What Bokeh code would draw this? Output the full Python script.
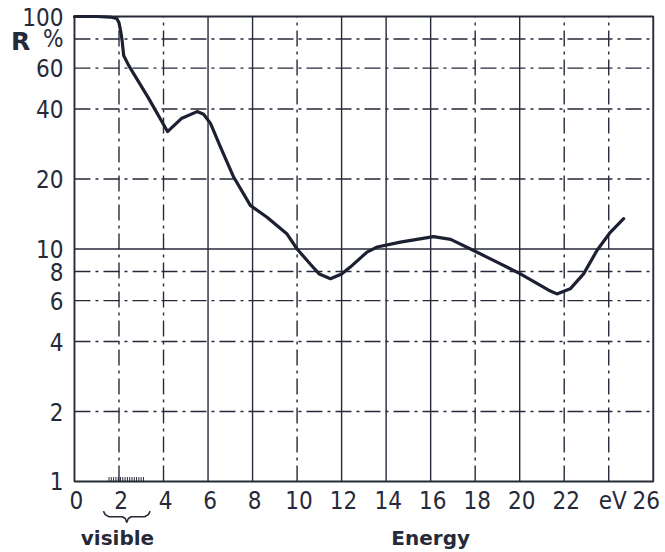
from bokeh.plotting import figure
from bokeh.models import Range1d
from bokeh.core.properties import value
from bokeh.embed import file_html
from bokeh.resources import INLINE

# Reflectance R (%) versus photon energy (eV)
energy_ev = [0.0, 1.0, 1.6, 1.9, 2.0, 2.08, 2.14, 2.21, 2.44, 3.3, 4.18, 4.8,
             5.51, 5.8, 6.11, 6.56, 7.15, 7.9, 8.65, 9.55, 10.0, 10.6, 11.0,
             11.5, 12.0, 12.39, 13.14, 13.6, 14.64, 16.13, 16.9, 17.93, 18.98,
             20.03, 20.93, 21.3, 21.67, 22.27, 22.87, 23.47, 24.07, 24.67]
reflectance_pct = [100, 100, 99.5, 98, 94, 86, 78.9, 68, 61.5, 45, 32, 36.4,
                   39, 38, 34.7, 27.4, 20.4, 15.4, 13.7, 11.6, 10.0, 8.6, 7.8,
                   7.45, 7.8, 8.36, 9.7, 10.2, 10.7, 11.3, 11.0, 9.85, 8.78,
                   7.82, 6.97, 6.65, 6.41, 6.74, 7.82, 9.85, 11.8, 13.5]

x_ticks = [0, 2, 4, 6, 8, 10, 12, 14, 16, 18, 20, 22, 24, 26]
x_tick_labels = {24: "eV"}
y_ticks = [1, 2, 4, 6, 8, 10, 20, 40, 60, 80, 100]
y_tick_labels = {80: "%"}

# grid lines drawn solid vs. dash-dot
x_grid_solid = [6, 8, 12, 14, 16, 20]
x_grid_dashdot = [2, 4, 10, 18, 22, 24]
y_grid_solid = [10]
y_grid_dashdot = [2, 4, 6, 8, 20, 40, 60, 80]

x_lim = (0, 26)
y_lim = (1, 100)

visible_band = (1.55, 3.1)            # eV, marked on the energy axis
brace_span = (1.3, 3.4)               # eV, brace under the visible band
brace_levels = (0.745, 0.705, 0.668)  # ends, bar, tip (below the axis)

INK = "#262a38"
NUM_FONT = "'Liberation Sans Narrow', 'DejaVu Sans Condensed', 'Roboto Condensed', sans-serif"

# the frame fills the whole canvas; the chart box, its ticks and captions
# are all drawn inside it
p = figure(width=665, height=552, output_backend="svg", toolbar_location=None,
           y_axis_type="log",
           x_range=Range1d(-3.323, 26.55), y_range=Range1d(0.495, 117.2),
           x_axis_location=None, y_axis_location=None,
           min_border=0)
p.background_fill_color = "white"
p.border_fill_color = "white"
p.outline_line_color = None
p.grid.visible = False

DASHDOT = "16 5 3 5"
n = len(x_grid_solid)
p.segment(x0=x_grid_solid, y0=[y_lim[0]] * n, x1=x_grid_solid, y1=[y_lim[1]] * n,
          line_color=INK, line_width=1.4)
n = len(x_grid_dashdot)
p.segment(x0=x_grid_dashdot, y0=[y_lim[0]] * n, x1=x_grid_dashdot, y1=[y_lim[1]] * n,
          line_color=INK, line_width=1.4, line_dash=DASHDOT)
n = len(y_grid_solid)
p.segment(x0=[x_lim[0]] * n, y0=y_grid_solid, x1=[x_lim[1]] * n, y1=y_grid_solid,
          line_color=INK, line_width=1.7)
n = len(y_grid_dashdot)
p.segment(x0=[x_lim[0]] * n, y0=y_grid_dashdot, x1=[x_lim[1]] * n, y1=y_grid_dashdot,
          line_color=INK, line_width=1.4, line_dash=DASHDOT)

# chart box
p.quad(left=[x_lim[0]], right=[x_lim[1]], bottom=[y_lim[0]], top=[y_lim[1]],
       fill_color=None, line_color=INK, line_width=1.9)

# reflectance curve
p.line(energy_ev, reflectance_pct, line_color="#1d2030", line_width=3.2,
       line_join="round", line_cap="round")

# tick labels (the last two are nudged so they sit inside the canvas)
x_label_dx = [2 if t < 24 else (4 if t == 24 else -7) for t in x_ticks]
x_label_dy = [6 if t == 24 else 10 for t in x_ticks]
p.text(x=x_ticks, y=[y_lim[0]] * len(x_ticks),
       text=[x_tick_labels.get(t, str(t)) for t in x_ticks],
       text_font=value(NUM_FONT), text_font_size="24px", text_color=INK,
       text_align="center", text_baseline="top", y_offset=x_label_dy,
       x_offset=x_label_dx)
p.text(x=[x_lim[0]] * len(y_ticks), y=y_ticks,
       text=[y_tick_labels.get(t, str(t)) for t in y_ticks],
       text_font=value(NUM_FONT), text_font_size="24px", text_color=INK,
       text_align="right", text_baseline="middle", x_offset=-11)

# hatch marks for the visible band on the energy axis
n_marks = 16
step = (visible_band[1] - visible_band[0]) / (n_marks - 1)
hx = [visible_band[0] + i * step for i in range(n_marks)]
p.segment(x0=hx, y0=[y_lim[0]] * n_marks, x1=hx, y1=[1.045] * n_marks,
          line_color=INK, line_width=1)

# curly brace under the visible band
b0, b1 = brace_span
bm = (b0 + b1) / 2
yend, ybar, ytip = brace_levels
brace_x = [b0, b0 + 0.08, b0 + 0.25, bm - 0.2, bm - 0.07, bm, bm + 0.07, bm + 0.2,
           b1 - 0.25, b1 - 0.08, b1]
brace_y = [yend, ybar + 0.015, ybar, ybar, ybar - 0.012, ytip, ybar - 0.012, ybar,
           ybar, ybar + 0.015, yend]
p.line(brace_x, brace_y, line_color=INK, line_width=1.6, line_join="round")

# captions
p.text(x=[-2.42], y=[78], text=["R"], text_font=value("DejaVu Sans"),
       text_font_style="bold", text_font_size="25px", text_color=INK,
       text_align="center", text_baseline="middle")
p.text(x=[1.93, 16.0], y=[y_lim[0]] * 2, text=["visible", "Energy"],
       text_font=value("DejaVu Sans"), text_font_style="bold",
       text_font_size="20px", text_color=INK, text_align="center",
       text_baseline="middle", y_offset=57)

open("out.html", "w").write(file_html(p, INLINE))
